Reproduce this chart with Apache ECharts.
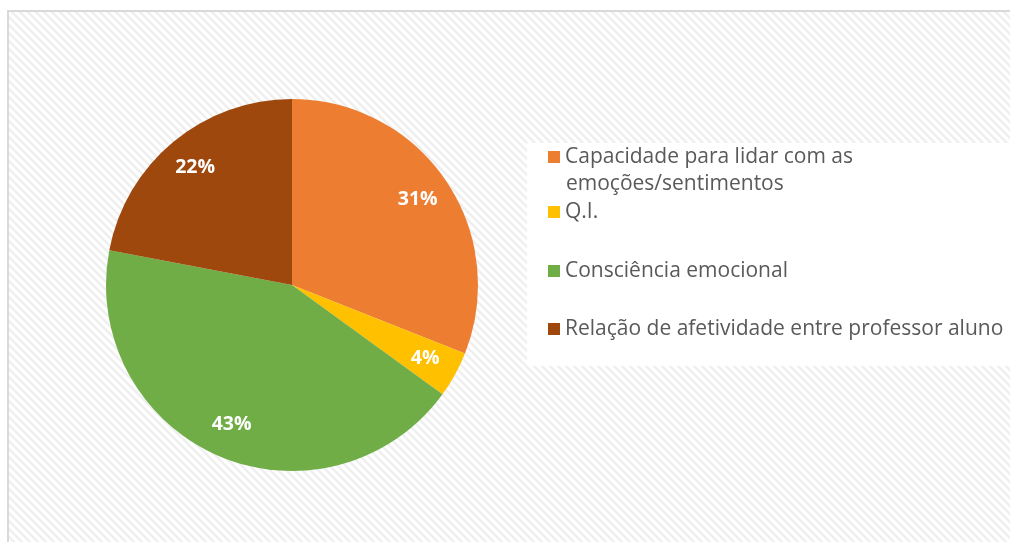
<!DOCTYPE html>
<html>
<head>
<meta charset="utf-8">
<script src="https://cdn.jsdelivr.net/npm/echarts@6/dist/echarts.min.js"></script>
<style>
  html, body { margin: 0; padding: 0; background: #fff; }
  #chart { width: 1010px; height: 542px; }
</style>
</head>
<body>
<div id="chart"></div>
<script>
const categories = [
  'Capacidade para lidar com as emoções/sentimentos',
  'Q.I.',
  'Consciência emocional',
  'Relação de afetividade entre professor aluno'
]
const values = [31, 4, 43, 22]
const colors = ['#ED7D31', '#FFC000', '#70AD47', '#9E480E']

const CX = 292
const CY = 285
const LABEL_R = 152
const legendCenters = [157, 212, 271, 329]
const LEGEND_LH = 24
const LEGEND_FS = 21
const FONT = '"Open Sans", "Liberation Sans", sans-serif'

// hatched background, like the office "wide downward diagonal" fill
const makeHatch = () => {
  const c = document.createElement('canvas')
  c.width = 8
  c.height = 8
  const ctx = c.getContext('2d')
  ctx.fillStyle = '#ffffff'
  ctx.fillRect(0, 0, 8, 8)
  ctx.strokeStyle = '#efefef'
  ctx.lineWidth = 2.5
  for (let k = -8; k <= 8; k += 8) {
    ctx.beginPath()
    ctx.moveTo(k - 2, -2)
    ctx.lineTo(k + 10, 10)
    ctx.stroke()
  }
  return c
}

const chart = echarts.init(document.getElementById('chart'))

const legends = categories.map((name, i) => ({
  orient: 'vertical',
  left: 548,
  top: legendCenters[i] - LEGEND_LH / 2,
  padding: 0,
  itemWidth: 12,
  itemHeight: 12,
  itemGap: 5,
  icon: 'rect',
  selectedMode: false,
  data: [name],
  formatter: n => (i === 0 ? 'Capacidade para lidar com as' : n),
  textStyle: {
    color: '#595959',
    fontSize: LEGEND_FS,
    fontFamily: FONT,
    lineHeight: LEGEND_LH
  }
}))

const option = {
  color: colors,
  animation: false,
  graphic: [
    {
      type: 'rect',
      z: -10,
      shape: { x: 8, y: 11, width: 1010, height: 540 },
      style: { fill: { image: makeHatch(), repeat: 'repeat' }, stroke: '#d9d9d9', lineWidth: 2 }
    },
    {
      type: 'rect',
      z: -5,
      shape: { x: 527, y: 143, width: 490, height: 223 },
      style: { fill: '#ffffff' }
    },
    {
      type: 'text',
      left: 566,
      top: 174,
      style: {
        text: 'emoções/sentimentos',
        fill: '#595959',
        font: LEGEND_FS + 'px ' + FONT
      }
    }
  ],
  legend: legends,
  series: [
    {
      type: 'pie',
      center: [CX, CY],
      radius: [0, 186],
      startAngle: 90,
      clockwise: true,
      silent: true,
      data: categories.map((name, i) => ({ name, value: values[i] })),
      label: {
        show: true,
        position: 'inside',
        formatter: p => p.value + '%',
        color: '#ffffff',
        fontWeight: 'bold',
        fontSize: 19.5,
        fontFamily: FONT
      },
      labelLine: { show: false },
      labelLayout: p => {
        const r = p.labelRect
        const x = r.x + r.width / 2 - CX
        const y = r.y + r.height / 2 - CY
        const k = LABEL_R / Math.hypot(x, y)
        return { dx: x * (k - 1), dy: y * (k - 1) }
      }
    }
  ]
}

chart.setOption(option)
</script>
</body>
</html>
